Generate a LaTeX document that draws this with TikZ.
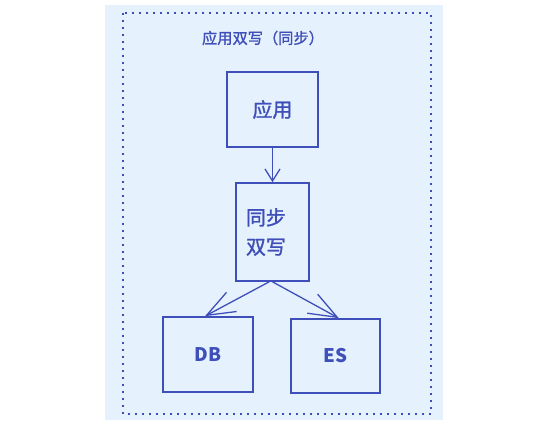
\documentclass[tikz,border=0pt]{standalone}
\usepackage{fontspec}
\newfontfamily\cjk[FakeBold=1.3]{Noto Sans CJK SC}
\newfontfamily\cjklatin{Noto Sans CJK SC}
\usetikzlibrary{arrows.meta,positioning}
\definecolor{ink}{HTML}{3F4FBA}
\definecolor{paper}{HTML}{E5F1FC}

\begin{document}
\begin{tikzpicture}[x=0.03cm, y=-0.03cm,
		box/.style={draw=ink, line width=1.4pt, text=ink, font=\cjk\fontsize{17}{25}\selectfont},
		flow/.style={draw=ink, line width=1.1pt, -{Straight Barb[length=3.6mm, width=4.5mm, line width=1.1pt]}},
		split/.style={draw=ink, line width=1.1pt, -{Straight Barb[length=8.5mm, width=6.5mm, line width=1.1pt]}},
	]
		\useasboundingbox (0,0) rectangle (537,423);
		\fill[paper] (105,5) rectangle (443,420);
		\draw[ink, line width=1.4pt, dash pattern=on 0.06cm off 0.15cm] (123,13) rectangle (431,414);

		\node[text=ink, font=\cjk\fontsize{13}{15}\selectfont] (title) at (263,38) {应用双写（同步）};

		\node[box, minimum width=2.73cm, minimum height=2.25cm] (app) at (272.5,109.5) {应用};
		\node[box, text width=1.59cm, inner xsep=0.3cm, minimum height=2.94cm, align=left] (sync) at (272.5,232) {同步\\双写};
		\node[box, minimum width=2.7cm, minimum height=2.25cm, font=\cjklatin\bfseries\fontsize{16}{18}\selectfont] (db) at (208,354.5) {DB};
		\node[box, minimum width=2.67cm, minimum height=2.22cm, font=\cjklatin\bfseries\fontsize{16}{18}\selectfont] (es) at (335.5,356) {ES};

		\draw[flow] (app.south) -- (sync.north);
		\draw[split] ([xshift=-0.1cm]sync.south) -- ([xshift=-0.09cm]db.north);
		\draw[split] (sync.south) -- ([xshift=0.1cm]es.north);
	\end{tikzpicture}
\end{document}
